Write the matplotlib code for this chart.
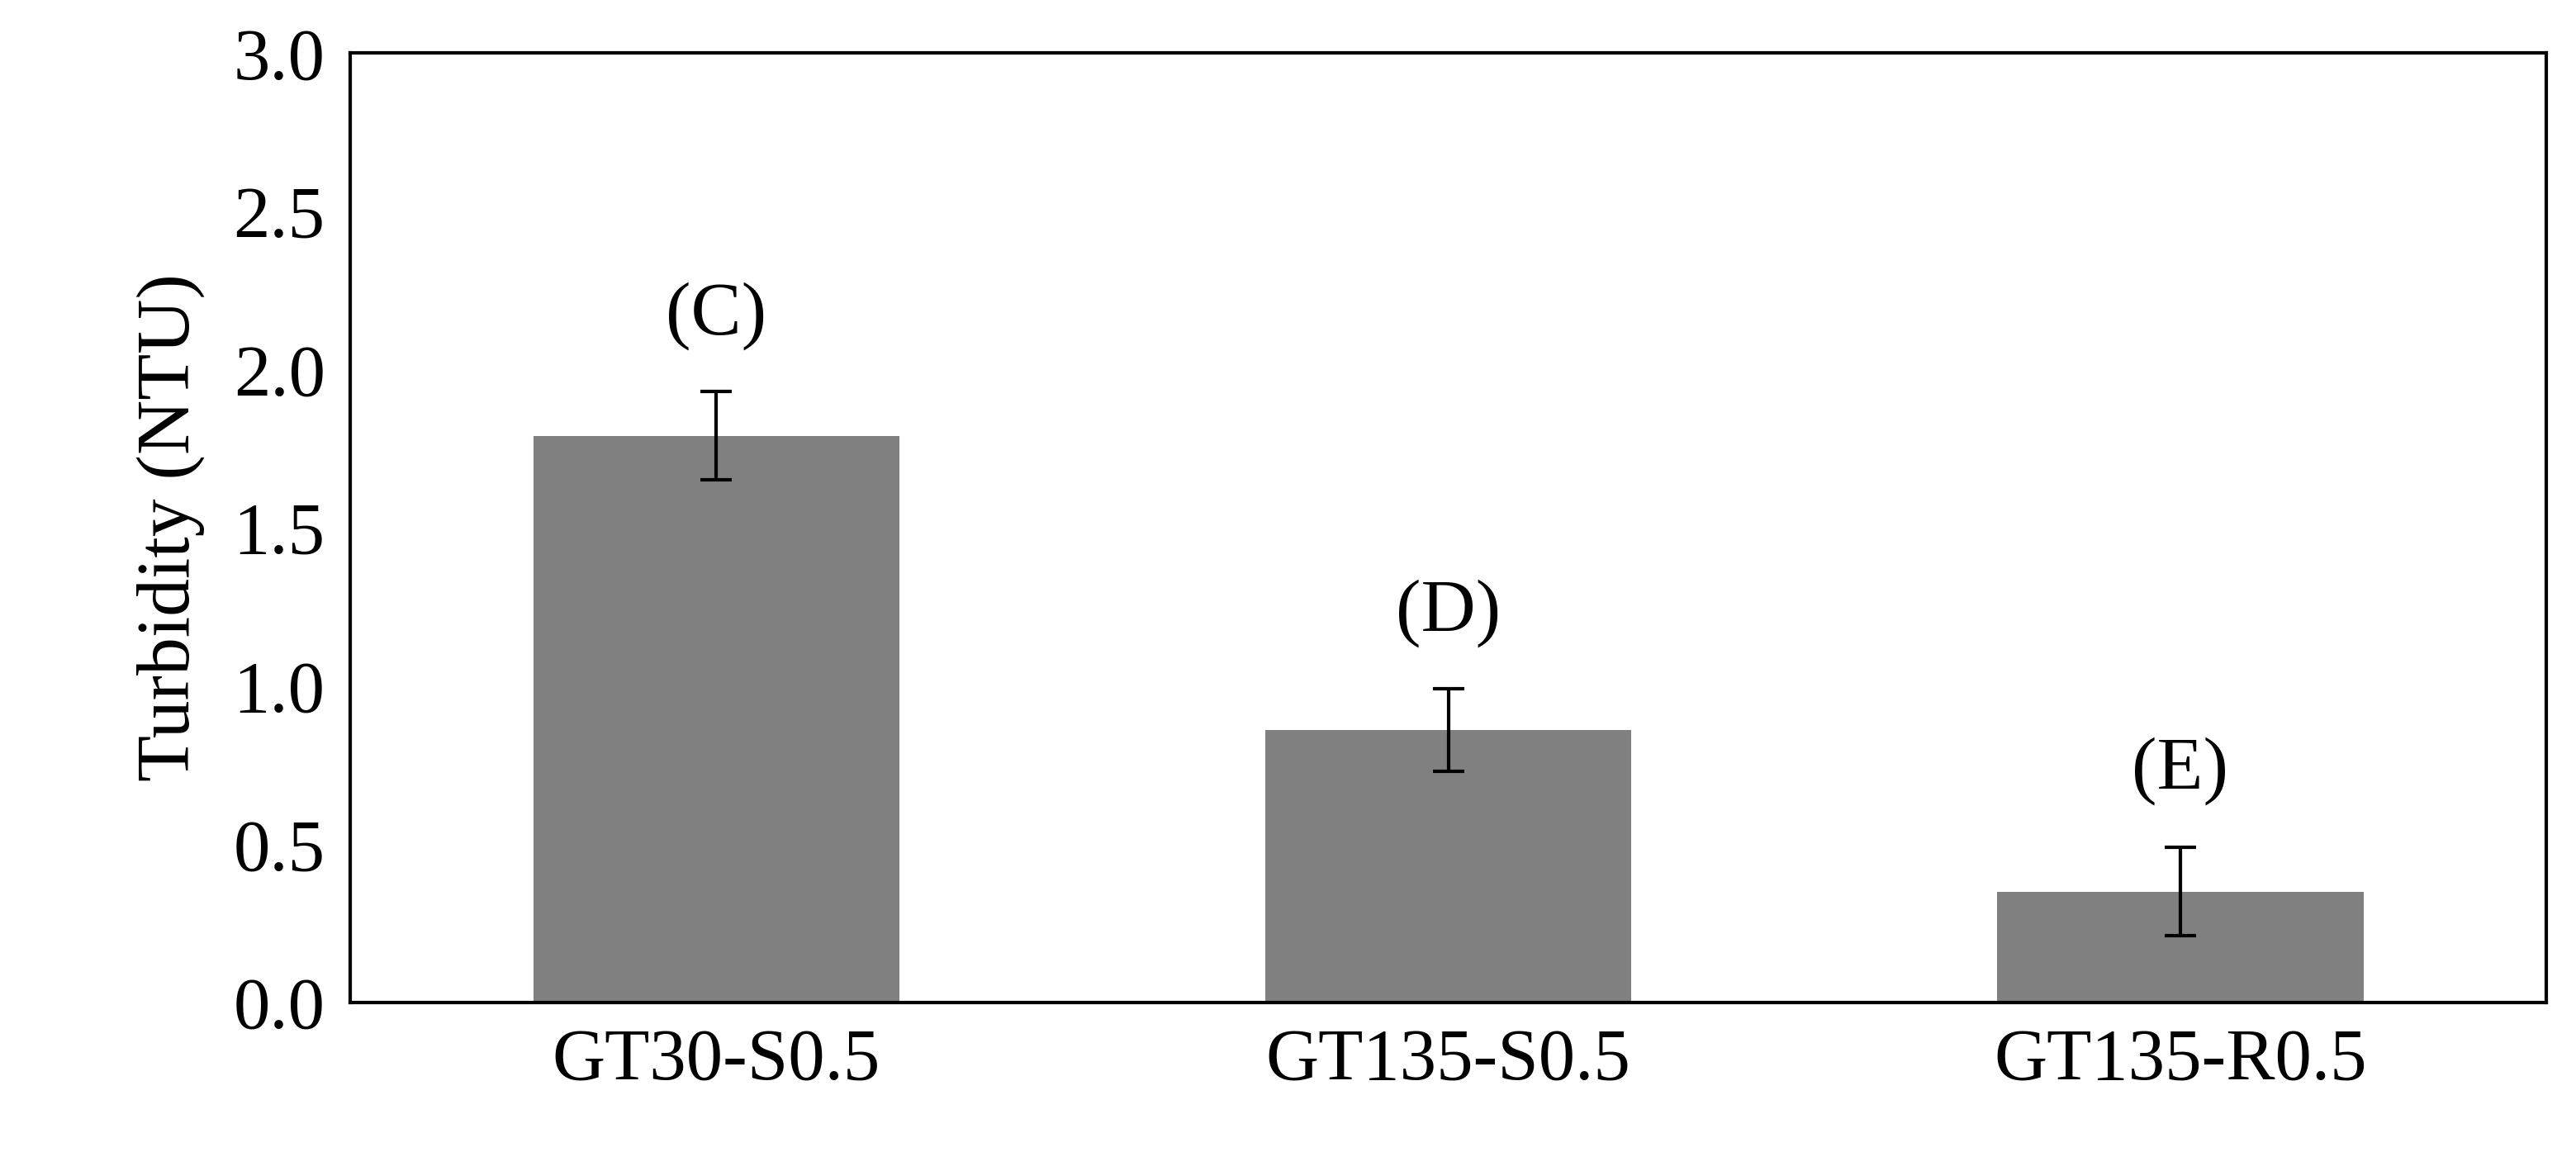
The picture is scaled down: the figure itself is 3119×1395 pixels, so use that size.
import matplotlib
matplotlib.use("Agg")
import matplotlib.pyplot as plt

categories = ["GT30-S0.5", "GT135-S0.5", "GT135-R0.5"]
values = [1.79, 0.86, 0.35]
errors = [0.14, 0.13, 0.14]
labels = ["(C)", "(D)", "(E)"]

plt.rcParams['font.family'] = ['Liberation Serif', 'DejaVu Serif']
fig = plt.figure(figsize=(31.19, 13.95), dpi=100)
ax = fig.add_axes([0.136, 0.130, 0.8525, 0.824])
x = range(len(categories))
ax.bar(x, values, width=0.5, color='#808080', yerr=errors,
       error_kw=dict(ecolor='black', elinewidth=3, capsize=14, capthick=3))
for i, (v, e, t) in enumerate(zip(values, errors, labels)):
    ax.text(i, v + e + 0.24, t, ha='center', va='center', fontsize=66)
ax.set_xlim(-0.5, 2.5)
ax.set_ylim(0, 3.0)
ax.set_yticks([0, 0.5, 1.0, 1.5, 2.0, 2.5, 3.0])
ax.set_yticklabels(["0.0", "0.5", "1.0", "1.5", "2.0", "2.5", "3.0"])
ax.set_xticks(list(x))
ax.set_xticklabels(categories)
ax.tick_params(axis='both', length=0, labelsize=64, pad=22)
ax.set_ylabel("Turbidity (NTU)", fontsize=66, labelpad=25)
for s in ax.spines.values():
    s.set_linewidth(3)
fig.savefig("out.png", dpi=100)
